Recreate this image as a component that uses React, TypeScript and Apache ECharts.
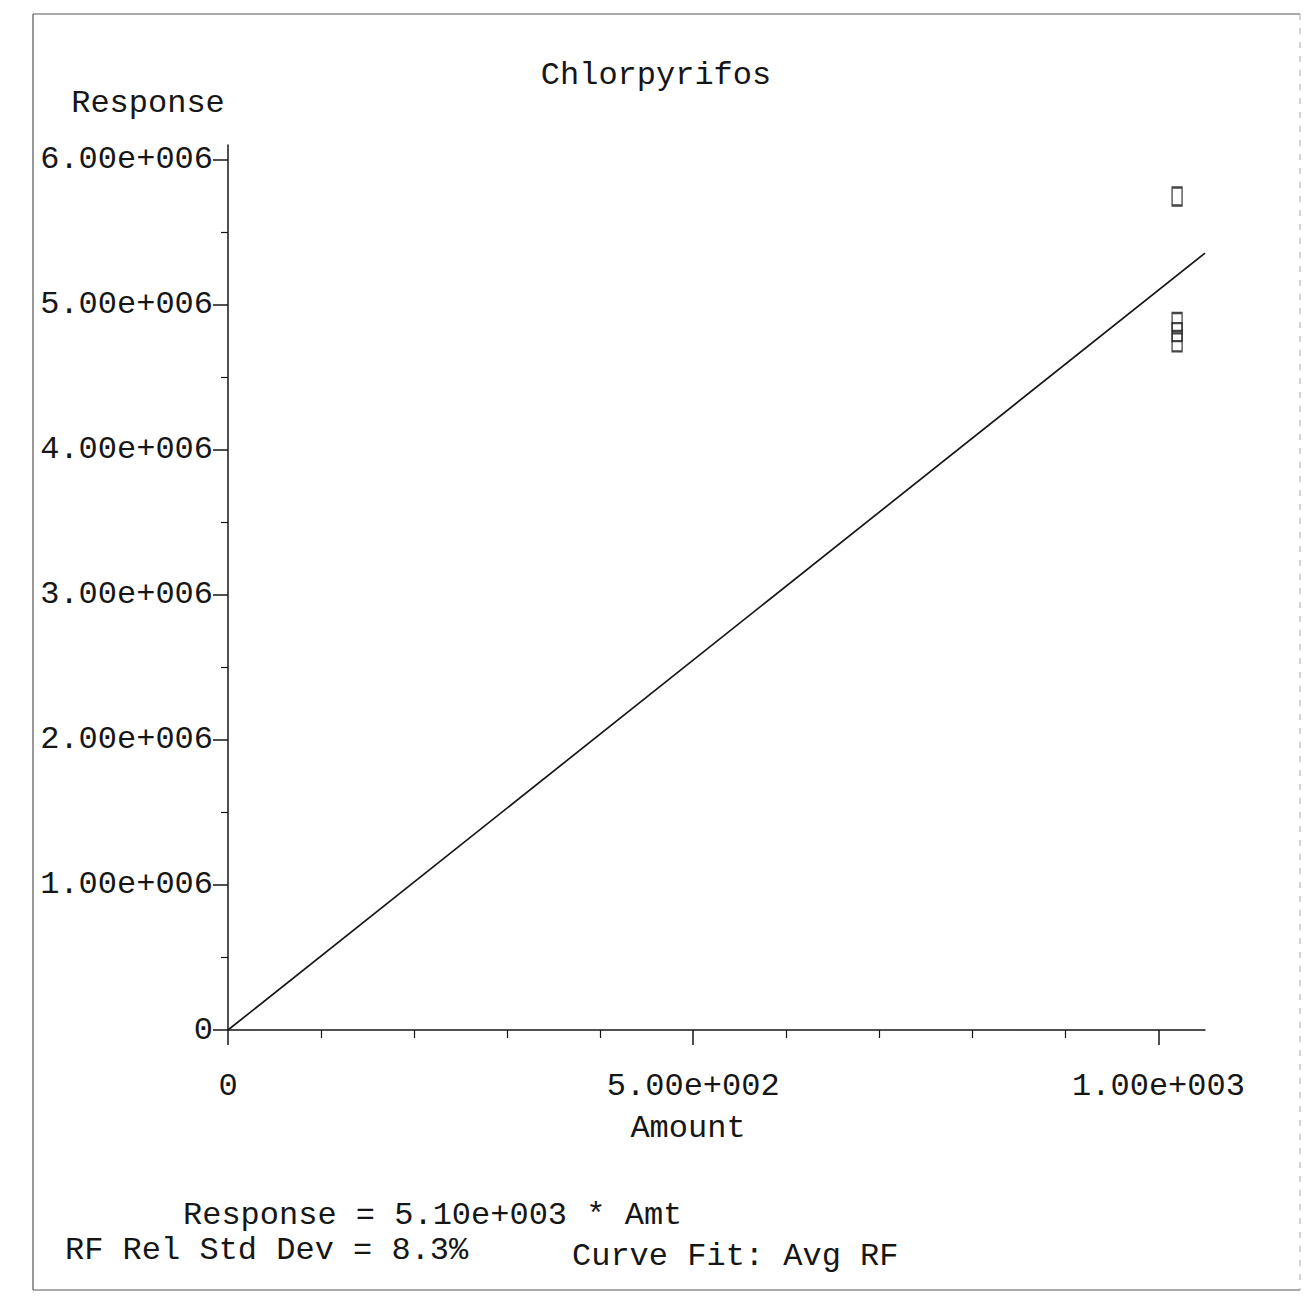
import React, { useEffect, useRef } from "react";
import * as echarts from "echarts";

const chartTitle = "Chlorpyrifos";
const yName = "Response";
const xName = "Amount";
const equationLines = [
  "Response = 5.10e+003 * Amt",
  "RF Rel Std Dev = 8.3%",
  "Curve Fit: Avg RF",
];

// calibration points (amount, response)
const amounts = [1020, 1020, 1020, 1020];
const responses = [5.745e6, 4.88e6, 4.81e6, 4.74e6];

// average RF fit
const fitSlope = 5.1e3;
const fitX = [0, 1050];

const xMajorTicks = [0, 500, 1000];
const xMinorTicks = [100, 200, 300, 400, 600, 700, 800, 900];
const yMajorTicks = [0, 1e6, 2e6, 3e6, 4e6, 5e6, 6e6];
const yMinorTicks = [0.5e6, 1.5e6, 2.5e6, 3.5e6, 4.5e6, 5.5e6];

const FONT = '"Liberation Mono", "DejaVu Sans Mono", monospace';
const INK = "#161616";
const FS = 32;

function fmt(v: number): string {
  if (v === 0) return "0";
  const e = Math.floor(Math.log10(Math.abs(v)) + 1e-9);
  const m = (v / Math.pow(10, e)).toFixed(2);
  const sign = e < 0 ? "-" : "+";
  return `${m}e${sign}${String(Math.abs(e)).padStart(3, "0")}`;
}

export default function App() {
  const ref = useRef<HTMLDivElement>(null);
  useEffect(() => {
    if (!ref.current) return;
    const chart = echarts.init(ref.current, null, { renderer: "svg" });
    const textStyle = { fontFamily: FONT, fontSize: FS, fill: INK };
    chart.setOption({
      animation: false,
      backgroundColor: "#ffffff",
      grid: { left: 228, top: 145, width: 977, height: 885, containLabel: false },
      xAxis: [
        {
          type: "value",
          min: 0,
          max: 1050,
          axisLine: { show: true, onZero: false, lineStyle: { color: INK, width: 1.5 } },
          axisTick: { show: true, customValues: xMajorTicks, length: 15, lineStyle: { color: INK, width: 1.5 } },
          axisLabel: {
            customValues: xMajorTicks,
            formatter: (v: number) => fmt(v),
            margin: 40,
            fontFamily: FONT,
            fontSize: FS,
            color: INK,
          },
          splitLine: { show: false },
        },
        {
          type: "value",
          position: "bottom",
          min: 0,
          max: 1050,
          axisLine: { show: false },
          axisTick: { show: true, customValues: xMinorTicks, length: 8, lineStyle: { color: INK, width: 1.2 } },
          axisLabel: { show: false },
          splitLine: { show: false },
        },
      ],
      yAxis: [
        {
          type: "value",
          min: 0,
          max: 6.1e6,
          axisLine: { show: true, onZero: false, lineStyle: { color: INK, width: 1.5 } },
          axisTick: { show: true, customValues: yMajorTicks, length: 15, lineStyle: { color: INK, width: 1.5 } },
          axisLabel: {
            customValues: yMajorTicks,
            formatter: (v: number) => fmt(v),
            margin: 15,
            fontFamily: FONT,
            fontSize: FS,
            color: INK,
          },
          splitLine: { show: false },
        },
        {
          type: "value",
          position: "left",
          min: 0,
          max: 6.1e6,
          axisLine: { show: false },
          axisTick: { show: true, customValues: yMinorTicks, length: 7, lineStyle: { color: INK, width: 1.2 } },
          axisLabel: { show: false },
          splitLine: { show: false },
        },
      ],
      series: [
        {
          type: "line",
          xAxisIndex: 0,
          yAxisIndex: 0,
          data: fitX.map((x) => [x, fitSlope * x]),
          symbol: "none",
          lineStyle: { color: INK, width: 1.7 },
          z: 2,
        },
        {
          type: "scatter",
          xAxisIndex: 0,
          yAxisIndex: 0,
          data: amounts.map((a, i) => [a, responses[i]]),
          symbol: "rect",
          symbolSize: [10, 18],
          itemStyle: { color: "rgba(255,255,255,0)", borderColor: INK, borderWidth: 1.7 },
          z: 3,
        },
      ],
      graphic: [
        // page frame
        { type: "line", shape: { x1: 33, y1: 14, x2: 1300, y2: 14 }, style: { stroke: "#555", lineWidth: 1.2 } },
        { type: "line", shape: { x1: 33, y1: 14, x2: 33, y2: 1290 }, style: { stroke: "#555", lineWidth: 1.2 } },
        { type: "line", shape: { x1: 33, y1: 1290, x2: 1300, y2: 1290 }, style: { stroke: "#555", lineWidth: 1.2 } },
        { type: "line", shape: { x1: 1300, y1: 14, x2: 1300, y2: 1290 }, style: { stroke: "#aaa", lineWidth: 1, lineDash: [6, 8] } },
        {
          type: "text",
          x: 656,
          y: 75,
          style: { ...textStyle, text: chartTitle, textAlign: "center", textVerticalAlign: "middle" },
        },
        {
          type: "text",
          x: 148,
          y: 103,
          style: { ...textStyle, text: yName, textAlign: "center", textVerticalAlign: "middle" },
        },
        {
          type: "text",
          x: 688,
          y: 1128,
          style: { ...textStyle, text: xName, textAlign: "center", textVerticalAlign: "middle" },
        },
        {
          type: "text",
          x: 183,
          y: 1215,
          style: { ...textStyle, text: equationLines[0], textAlign: "left", textVerticalAlign: "middle" },
        },
        {
          type: "text",
          x: 65,
          y: 1250,
          style: { ...textStyle, text: equationLines[1], textAlign: "left", textVerticalAlign: "middle" },
        },
        {
          type: "text",
          x: 572,
          y: 1256,
          style: { ...textStyle, text: equationLines[2], textAlign: "left", textVerticalAlign: "middle" },
        },
      ],
    });
    return () => chart.dispose();
  }, []);
  return (
    <div
      ref={ref}
      style={{ position: "absolute", left: 0, top: 0, width: 1307, height: 1297 }}
    />
  );
}
